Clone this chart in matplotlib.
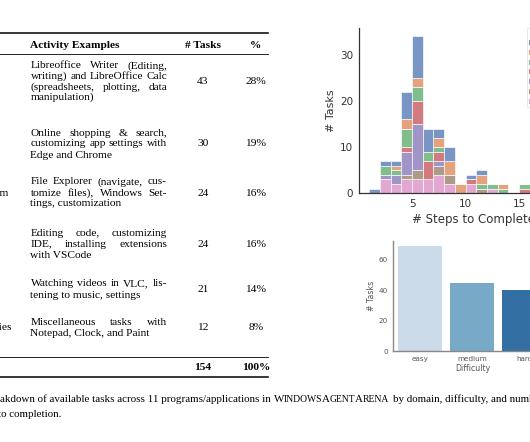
import colorsys
import numpy as np
import matplotlib.pyplot as plt
from matplotlib.lines import Line2D
from matplotlib.patches import Patch
import matplotlib.colors as mcolors

W, H = 530, 442

# ---- table data ----
domains = ["Office", "Web Browsing", "Windows System", "Coding",
           "Media & Video", "Windows Utilities"]
activities = [
    ["Libreoffice Writer (Editing,", "writing) and LibreOffice Calc",
     "(spreadsheets, plotting, data", "manipulation)"],
    ["Online shopping & search,", "customizing app settings with",
     "Edge and Chrome"],
    ["File Explorer (navigate, cus-", "tomize files), Windows Set-",
     "tings, customization"],
    ["Editing code, customizing", "IDE, installing extensions",
     "with VSCode"],
    ["Watching videos in VLC, lis-", "tening to music, settings"],
    ["Miscellaneous tasks with", "Notepad, Clock, and Paint"],
]
n_tasks = [43, 30, 24, 24, 21, 12]

# ---- histogram data: tasks per step count (bins 1..15), one list per hue ----
steps = list(range(1, 16))
hue_names = ["Office", "Web Browsing", "Windows System", "Coding",
             "Media & Video", "Windows Utilities", "Other"]
c_blue   = [1, 1, 1, 6, 9, 5, 2, 3, 0, 1, 1, 0, 0, 0, 0]
c_orange = [0, 0, 1, 2, 2, 0, 2, 3, 2, 0, 2, 0, 1, 0, 0]
c_green  = [0, 2, 1, 4, 3, 2, 1, 0, 0, 0, 1, 1, 1, 0, 1]
c_red    = [0, 0, 0, 1, 5, 4, 2, 0, 0, 1, 0, 0, 0, 0, 1]
c_purple = [0, 1, 2, 5, 10, 0, 1, 0, 0, 0, 0, 0, 0, 0, 0]
c_brown  = [0, 0, 0, 1, 2, 0, 2, 2, 0, 0, 1, 0, 0, 0, 0]
c_pink   = [0, 3, 2, 3, 3, 3, 4, 2, 0, 2, 0, 1, 0, 0, 0]
hist_counts = [c_blue, c_orange, c_green, c_red, c_purple, c_brown, c_pink]

# ---- difficulty data ----
difficulty = ["easy", "medium", "hard"]
diff_counts = [69, 45, 40]

deep = ["#4C72B0", "#DD8452", "#55A868", "#C44E52", "#8172B3", "#937860", "#DA8BC3"]


def desat(c, s=0.75):
    h, l, sat = colorsys.rgb_to_hls(*mcolors.to_rgb(c))
    return colorsys.hls_to_rgb(h, l, sat * s)


blues = [desat(plt.cm.Blues(v)) for v in (0.25, 0.5, 0.75)]

fig = plt.figure(figsize=(W / 100, H / 100), dpi=100)
r = fig.canvas.get_renderer()
serif = "Liberation Serif"
TS = 8.2


def fx(x):
    return x / W


def fy(y):
    return 1 - y / H


def put(x, y, s, **kw):
    kw.setdefault("family", serif)
    kw.setdefault("fontsize", TS)
    kw.setdefault("va", "center_baseline")
    return fig.text(fx(x), fy(y), s, **kw)


def width_of(s, **kw):
    t = put(0, -50, s, **kw)
    w = t.get_window_extent(r).width
    t.remove()
    return w


def put_justified(line, x0, x1, y):
    words = line.split(" ")
    arts = [put(0, y, w) for w in words]
    widths = [a.get_window_extent(r).width for a in arts]
    gap = (x1 - x0 - sum(widths)) / (len(words) - 1)
    x = x0
    for a, w in zip(arts, widths):
        a.set_x(fx(x))
        x += w + gap


def hline(y, x0, x1, lw):
    fig.add_artist(Line2D([fx(x0), fx(x1)], [fy(y), fy(y)], color="black",
                          lw=lw, transform=fig.transFigure))


# ---- table ----
col_x0, col_x1 = 30.5, 167
x_num, x_pct = 203, 256
hline(33, -5, 268, 1.1)
hline(53.5, -5, 268, 0.6)
hline(356.5, -5, 268, 0.6)
hline(377, -5, 268, 1.1)
put(col_x0, 44, "Activity Examples", weight="bold")
put(x_num, 44, "# Tasks", weight="bold", ha="center")
put(x_pct, 44, "%", weight="bold", ha="center")

row_lines = [[65, 75.5, 86, 96.5], [132, 143, 154], [181, 192, 203],
             [232, 243, 254], [283, 294], [321.5, 332.5]]
row_mid = [81, 143, 192, 243, 288.5, 327]
dom_x = 8 - width_of("Windows System")
total = sum(n_tasks)
for lines, ys, mid, n, dom in zip(activities, row_lines, row_mid, n_tasks, domains):
    for i, (line, y) in enumerate(zip(lines, ys)):
        if i < len(lines) - 1:
            put_justified(line, col_x0, col_x1, y)
        else:
            put(col_x0, y, line)
    put(dom_x, mid, dom)
    put(x_num, mid, str(n), ha="center")
    put(x_pct, mid, f"{round(100 * n / total)}%", ha="center")
put(x_num, 367, str(total), weight="bold", ha="center")
put(x_pct, 367, "100%", weight="bold", ha="center")

# ---- caption (small caps for the system name) ----
CS = 7.9
SC = CS * 0.88
space_w = width_of("a a", fontsize=CS) - 2 * width_of("a", fontsize=CS)
segs = [("Breakdown of available tasks across 11 programs/applications in", CS, space_w),
        ("W", CS, -0.2), ("INDOWS", SC, -0.2), ("A", CS, -0.2), ("GENT", SC, -0.2),
        ("A", CS, -0.2), ("RENA", SC, space_w + 1),
        ("by domain, difficulty, and number of", CS, 0)]
x = -width_of("Bre", fontsize=CS)
for s, fs, after in segs:
    a = put(x, 398, s, fontsize=fs)
    x += a.get_window_extent(r).width + after
put(-1.5, 413.5, "to completion.", fontsize=CS)

# ---- histogram ----
ax = fig.add_axes([fx(358.5), fy(193.3), 229 / W, 165 / H])
bottom = np.zeros(len(steps))
for k in list(range(len(hist_counts)))[::-1]:
    vals = np.array(hist_counts[k])
    ax.bar(steps, vals, width=1, bottom=bottom, align="edge", color=deep[k],
           alpha=0.75, edgecolor="white", linewidth=0.6)
    bottom += vals
ax.set_xlim(0, 21.4)
ax.set_ylim(0, 35.7)
ax.set_xticks([5, 10, 15, 20])
ax.set_yticks([0, 10, 20, 30])
ax.tick_params(length=0, labelsize=7.5, colors="#333333", pad=4)
ax.set_xlabel("# Steps to Complete", fontsize=8.5, color="#333333", labelpad=3)
ax.set_ylabel("# Tasks", fontsize=8, color="#333333", labelpad=3)
for sp in ["top", "right"]:
    ax.spines[sp].set_visible(False)
for sp in ["left", "bottom"]:
    ax.spines[sp].set_color("#333333")
    ax.spines[sp].set_linewidth(0.9)
handles = [Patch(facecolor=deep[k], alpha=0.75) for k in range(len(hue_names))]
leg = ax.legend(handles, hue_names, title="Domain", loc="upper left",
                bbox_to_anchor=(fx(527), fy(28)), bbox_transform=fig.transFigure,
                fontsize=5, title_fontsize=5, borderpad=0.3,
                labelspacing=0.55, handlelength=1.5, borderaxespad=0)
leg.get_frame().set_edgecolor("#dddddd")
leg.get_frame().set_linewidth(0.6)

# ---- difficulty bars ----
bx = fig.add_axes([fx(392.7), fy(351.3), 161 / W, 110.3 / H])
bx.bar(range(len(difficulty)), diff_counts, width=0.84, color=blues)
bx.set_xlim(-0.53, 2.57)
bx.set_ylim(0, 72.4)
bx.set_xticks(range(len(difficulty)))
bx.set_xticklabels(difficulty)
bx.set_yticks([0, 20, 40, 60])
bx.tick_params(length=0, labelsize=5.2, colors="#555555", pad=3.5)
bx.set_xlabel("Difficulty", fontsize=5.6, color="#555555", labelpad=1)
bx.set_ylabel("# Tasks", fontsize=5.6, color="#555555", labelpad=2)
for sp in ["top", "right"]:
    bx.spines[sp].set_visible(False)
for sp in ["left", "bottom"]:
    bx.spines[sp].set_color("#888888")
    bx.spines[sp].set_linewidth(1.0)

fig.savefig("out.png", dpi=100)
